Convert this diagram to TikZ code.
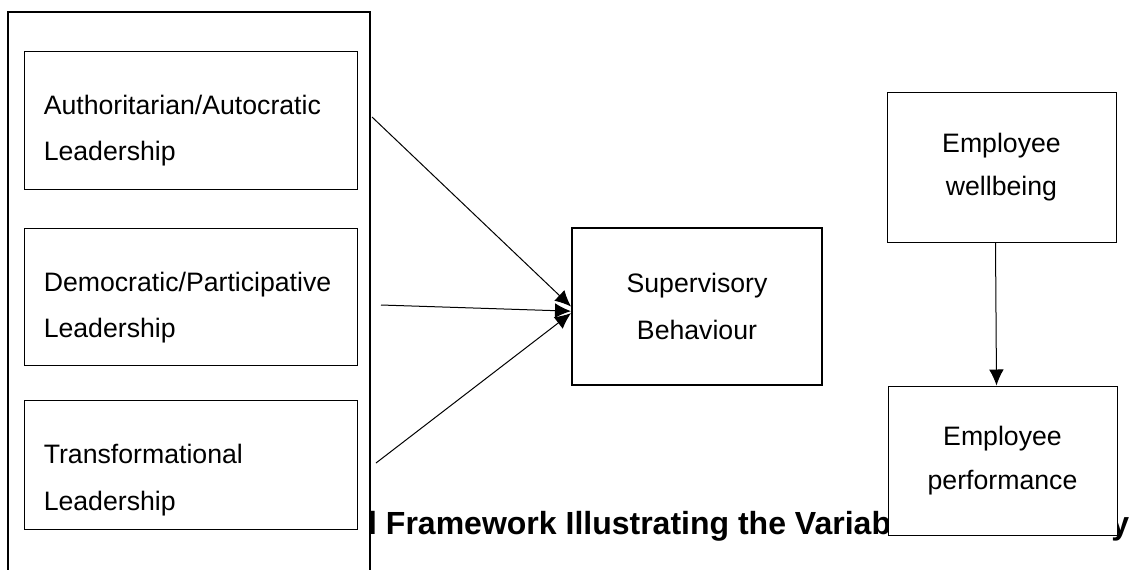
\documentclass[tikz,border=0pt]{standalone}
\usepackage{fontspec}
\setmainfont{Liberation Sans}
\usetikzlibrary{positioning, arrows.meta}

\begin{document}
\begin{tikzpicture}[
    x = 0.75pt, y = -0.75pt,
    box font/.style = {font = \fontsize{20}{35}\selectfont},
  ]
  \tikzstyle {framebox} = [draw, line width = 1.5pt, fill = white, minimum width = 271.5pt, minimum height = 456.75pt]
  \tikzstyle {leader} = [draw, line width = 0.75pt, fill = white, minimum width = 249.75pt, minimum height = 102.5pt]
  \tikzstyle {leadtext} = [box font, align = left, anchor = west, inner sep = 0]
  \tikzstyle {outcome} = [draw, line width = 0.75pt, fill = white, font = \fontsize{20}{32.5}\selectfont, align = center, minimum width = 171.75pt, minimum height = 112.5pt]
  \tikzstyle {arrow} = [-{Latex[length = 12pt, width = 11pt]}, line width = 0.75pt]
  \clip (0,0) rectangle (1139,569);
  % caption, mostly behind the boxes
  \path node (caption) [anchor = base east, font = \fontsize{24}{28}\selectfont\bfseries] at (1134,534) {Conceptual Framework Illustrating the Variables of the Study};
  % place nodes
  \path node (frame) [framebox] at (189,316) {};
  \path node (auth) [leader, minimum height = 103.5pt] at (190.5,120) {};
  \path node (demo) [leader] at (190.5,297) {};
  \path node (trans) [leader, minimum height = 97pt] at (190.5,464.7) {};
  \path node (authtext) [leadtext] at ([xshift = 15pt, yshift = -8pt]auth.west) {Authoritarian/Autocratic\\Leadership};
  \path node (demotext) [leadtext] at ([xshift = 15pt, yshift = -8pt]demo.west) {Democratic/Participative\\Leadership};
  \path node (transtext) [leadtext] at ([xshift = 15pt, yshift = -11.5pt]trans.west) {Transformational\\Leadership};
  \path node (sup) [outcome, box font, line width = 1.5pt, minimum width = 187.5pt, minimum height = 117.75pt] at (697,306.5) {Supervisory\\Behaviour};
  \path node (well) [outcome] at (1001.5,167) {Employee\\wellbeing};
  \path node (perf) [outcome, minimum height = 111.75pt] at (1002.5,460.5) {Employee\\performance};
  \coordinate (authout) at (372,117);
  \coordinate (demoout) at (381,305);
  \coordinate (transout) at (376,463);
  % place edges
  \foreach \x/\s in {authout/0pt, demoout/-3.5pt, transout/-5pt}
    { \draw [arrow] (\x) -- ([yshift = \s]sup.west) ; } ;
  \draw [arrow] ([xshift = -4.5pt]well.south) -- ([xshift = -4.5pt]perf.north) ;
\end{tikzpicture}
\end{document}
